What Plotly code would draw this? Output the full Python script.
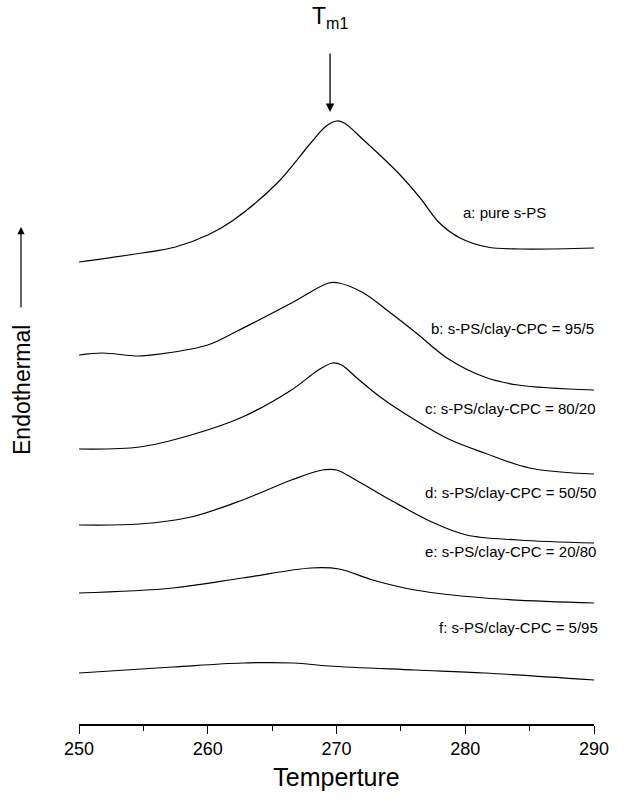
import plotly.graph_objects as go

# Temperature (°C) sample points and heat-flow readings (arbitrary units, offset curves)
T_a = [250, 254.9, 257.5, 260.0, 261.9, 265.4, 268.0, 269.2, 270.0, 270.6, 272.1, 274.8, 276.5, 278.0, 279.6, 281.7, 284.3, 290]
Y_a = [462, 471, 477, 489, 503, 541, 581, 598, 603, 601, 584, 551, 526, 501, 486, 477, 475, 476]

T_b = [250, 251.8, 254.6, 256.3, 260.0, 262.3, 266.5, 269.4, 270.2, 272.1, 273.9, 276.1, 278.7, 281.5, 284.1, 290]
Y_b = [369, 371, 368, 370, 379, 393, 421, 441, 441, 431, 414, 392, 365, 347, 339, 334]

T_c = [250, 254.7, 258.7, 262.7, 266.5, 268.6, 269.7, 270.4, 271.5, 273.4, 276.1, 278.7, 281.5, 285.0, 290]
Y_c = [275, 277, 289, 307, 334, 354, 361, 359, 347, 327, 304, 285, 271, 256, 250]

T_d = [250, 254.7, 258.7, 262.7, 266.5, 268.9, 270.0, 271.5, 274.2, 277.4, 280.1, 284.1, 290]
Y_d = [199, 200, 207, 224, 244, 254, 254, 244, 224, 202, 189, 184, 181]

T_e = [250, 257.3, 262.7, 268.0, 270.2, 272.8, 276.1, 281.5, 290]
Y_e = [131, 136, 146, 156, 155, 144, 134, 126, 121]

T_f = [250, 257.3, 262.7, 266.7, 269.4, 276.1, 281.5, 290]
Y_f = [51, 57, 61, 61, 58, 54, 51, 44]

labels = ["a: pure s-PS",
          "b: s-PS/clay-CPC = 95/5",
          "c: s-PS/clay-CPC = 80/20",
          "d: s-PS/clay-CPC = 50/50",
          "e: s-PS/clay-CPC = 20/80",
          "f: s-PS/clay-CPC = 5/95"]
label_T = [279.7, 277.2, 276.7, 276.7, 276.7, 277.8]
label_Y = [512, 396, 316, 232, 173, 97]

x_ticks = [250, 260, 270, 280, 290]
Tm1 = 269.5

FONT = "Liberation Sans, Arial, sans-serif"

fig = go.Figure()
for T, Y in [(T_a, Y_a), (T_b, Y_b), (T_c, Y_c), (T_d, Y_d), (T_e, Y_e), (T_f, Y_f)]:
    fig.add_trace(go.Scatter(x=T, y=Y, mode="lines",
                             line=dict(color="black", width=1.2, shape="spline", smoothing=1.0),
                             showlegend=False, hoverinfo="skip"))

for txt, tx, ty in zip(labels, label_T, label_Y):
    fig.add_annotation(x=tx, y=ty, text=txt, showarrow=False, xanchor="left", yanchor="middle",
                       font=dict(family=FONT, size=15, color="black"))

# Tm1 marker
fig.add_annotation(x=Tm1, y=612, ax=0, ay=-60, text="", showarrow=True,
                   arrowhead=2, arrowsize=1.3, arrowwidth=1.3, arrowcolor="black")
fig.add_annotation(x=Tm1, y=707, text="T<sub>m1</sub>", showarrow=False,
                   xanchor="center", yanchor="middle",
                   font=dict(family=FONT, size=23, color="black"))

# Endothermal label and arrow
fig.add_annotation(xref="paper", yref="paper", x=(22 - 79) / 515, y=(724 - 390) / 724,
                   text="Endothermal", textangle=-90, showarrow=False,
                   xanchor="center", yanchor="middle",
                   font=dict(family=FONT, size=23, color="black"))
fig.add_annotation(xref="paper", yref="paper", x=(21 - 79) / 515, y=(724 - 227) / 724,
                   ax=0, ay=82, text="", showarrow=True,
                   arrowhead=2, arrowsize=1.2, arrowwidth=1.2, arrowcolor="black")

fig.update_layout(
    width=629, height=804,
    margin=dict(l=79, r=35, t=0, b=80),
    paper_bgcolor="white", plot_bgcolor="white",
    xaxis=dict(range=[250, 290], tickvals=x_ticks, ticks="outside", ticklen=8, tickwidth=1.3,
               tickcolor="black", showline=True, linecolor="black", linewidth=1.5,
               showgrid=False, zeroline=False,
               minor=dict(dtick=5, ticks="outside", ticklen=5, tickwidth=1.2, tickcolor="black"),
               tickfont=dict(family=FONT, size=18, color="black"),
               title=dict(text="Temperture", font=dict(family=FONT, size=25, color="black"), standoff=10)),
    yaxis=dict(range=[0, 724], visible=False, showgrid=False, zeroline=False),
)

fig.write_html("out.html")
